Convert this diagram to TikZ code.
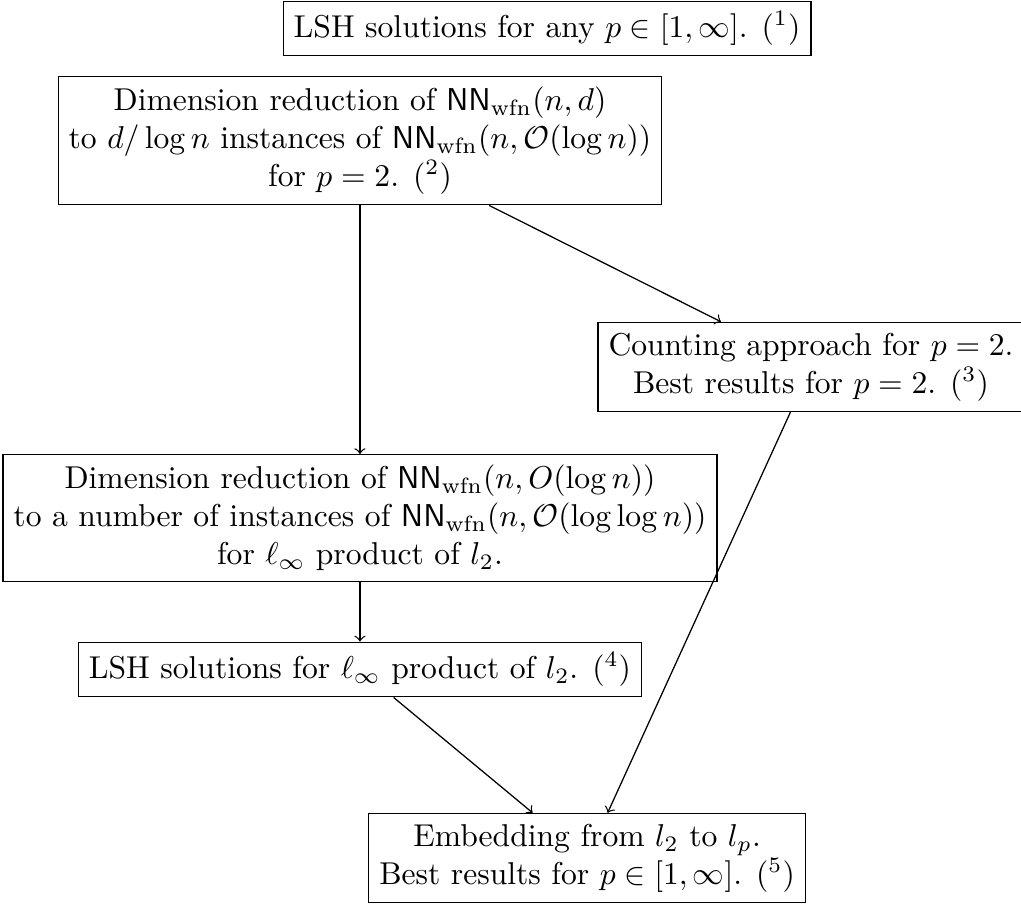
\documentclass[tikz,border=0pt]{standalone}
\usepackage{amsmath,amssymb}
\usepackage{tikz}

\newcommand{\nnw}{\mathsf{NN}_{\mathrm{wfn}}}

\begin{document}
\begin{tikzpicture}[box/.style={draw,align=center}]
  \useasboundingbox (0,0) rectangle (11.357,-10.078);

  \node[box] (lshany) at (6.085,-0.317) {LSH solutions for any $p\in[1,\infty]$. $(^1)$};
  \node[box] (dimred) at (4.004,-1.563) {Dimension reduction of $\nnw(n,d)$\\ to $d/\log n$ instances of $\nnw(n,\mathcal{O}(\log n))$\\ for $p=2$. $(^2)$};
  \node[box] (count) at (9.021,-4.082) {Counting approach for $p=2$.\\ Best results for $p=2$. $(^3)$};
  \node[box] (dimtwo) at (4.004,-5.762) {Dimension reduction of $\nnw(n,O(\log n))$\\ to a number of instances of $\nnw(n,\mathcal{O}(\log\log n))$\\ for $\ell_\infty$ product of $l_2$.};
  \node[box] (lshprod) at (4.004,-7.447) {LSH solutions for $\ell_\infty$ product of $l_2$. $(^4)$};
  \node[box] (embed) at (6.530,-9.544) {Embedding from $l_2$ to $l_p$.\\ Best results for $p\in[1,\infty]$. $(^5)$};

  \draw[->] (dimred) -- (dimtwo);
  \draw[->] (dimred) -- (count);
  \draw[->] (dimtwo) -- (lshprod);
  \draw[->] (lshprod) -- (embed);
  \draw[->] (count) -- (embed);
\end{tikzpicture}
\end{document}
